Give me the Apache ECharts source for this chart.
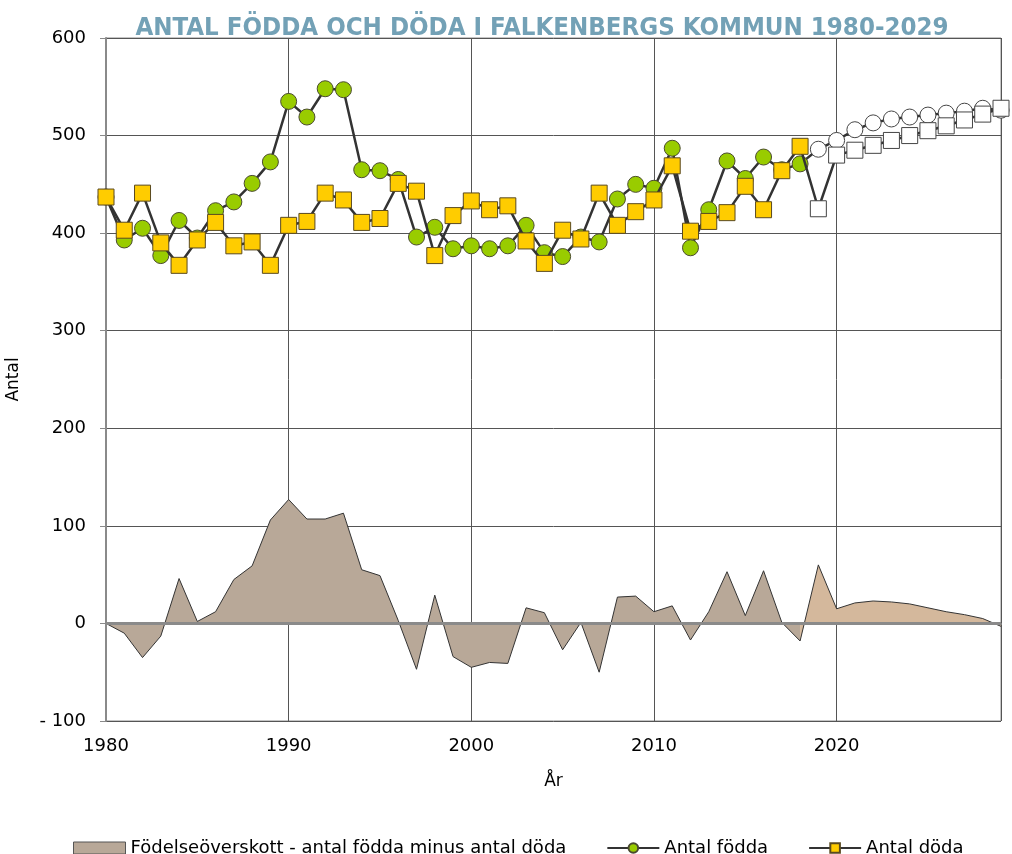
<!DOCTYPE html>
<html>
<head>
<meta charset="utf-8">
<title>Antal födda och döda</title>
<script src="https://cdn.jsdelivr.net/npm/echarts@6/dist/echarts.min.js"></script>
<style>
    html, body { margin: 0; padding: 0; background: #fff; }
    .chart { width: 1012px; height: 854px; }
</style>
</head>
<body>
<div class="chart"></div>
<script>
// år 1980-2029, prognos från 2019
var years = [1980, 1981, 1982, 1983, 1984, 1985, 1986, 1987, 1988, 1989,
    1990, 1991, 1992, 1993, 1994, 1995, 1996, 1997, 1998, 1999,
    2000, 2001, 2002, 2003, 2004, 2005, 2006, 2007, 2008, 2009,
    2010, 2011, 2012, 2013, 2014, 2015, 2016, 2017, 2018, 2019,
    2020, 2021, 2022, 2023, 2024, 2025, 2026, 2027, 2028, 2029];
var prognosFrom = 2019;

var fodda = [437, 393, 405, 377, 413, 395, 423, 432, 451, 473,
    535, 519, 548, 547, 465, 464, 455, 396, 406, 384,
    387, 384, 387, 408, 380, 376, 396, 391, 435, 450,
    446, 487, 385, 424, 474, 456, 478, 465, 471, 486,
    495, 506, 513, 517, 519, 521, 523, 525, 528, 526];

var doda = [437, 403, 441, 390, 367, 393, 411, 387, 391, 367,
    408, 412, 441, 434, 411, 415, 451, 443, 377, 418,
    433, 424, 428, 392, 369, 403, 394, 441, 408, 422,
    434, 469, 402, 412, 421, 448, 424, 464, 489, 425,
    480, 485, 490, 495, 500, 505, 510, 516, 522, 528];

var overskott = [0, -10, -35, -13, 46, 2, 12, 45, 59, 106,
    127, 107, 107, 113, 55, 49, 3, -47, 29, -34,
    -45, -40, -41, 16, 11, -27, 1, -50, 27, 28,
    12, 18, -17, 12, 53, 8, 54, 1, -18, 60,
    15, 21, 23, 22, 20, 16, 12, 9, 5, -3];

var yTicks = [-100, 0, 100, 200, 300, 400, 500, 600];

(function () {
    var myChart = echarts.init(document.querySelector('.chart'));

    var font = "'DejaVu Sans', sans-serif";

    function points(values) {
        return years.map(function (y, i) {
            var item = { value: [y, values[i]] };
            if (y >= prognosFrom) {
                item.itemStyle = { color: '#ffffff', borderColor: '#444' };
            }
            return item;
        });
    }

    var histArea = [];
    var progArea = [];
    years.forEach(function (y, i) {
        if (y < prognosFrom) histArea.push([y, overskott[i]]);
        if (y >= prognosFrom - 1) progArea.push([y, overskott[i]]);
    });

    option = {
        animation: false,
        title: {
            text: 'ANTAL FÖDDA OCH DÖDA I FALKENBERGS KOMMUN 1980-2029',
            left: 537,
            top: 10,
            textAlign: 'center',
            textStyle: {
                fontFamily: "'DejaVu Sans Condensed', 'Liberation Sans Narrow', sans-serif",
                fontSize: 25.6,
                fontWeight: 'bold',
                color: '#73a1b6'
            }
        },
        grid: {
            left: 106,
            right: 11,
            top: 38,
            bottom: 133,
            outerBoundsMode: 'none',
            show: true,
            borderColor: '#8a8a8a',
            borderWidth: 1
        },
        legend: {
            left: 68,
            top: 834,
            itemGap: 40,
            itemWidth: 52,
            itemHeight: 12,
            textStyle: { fontFamily: font, fontSize: 18, color: '#000' },
            data: [
                { name: 'Födelseöverskott - antal födda minus antal döda', icon: 'rect',
                  itemStyle: { color: '#b8a898', borderColor: '#555', borderWidth: 1 } },
                { name: 'Antal födda' },
                { name: 'Antal döda' }
            ]
        },
        xAxis: {
            type: 'value',
            min: 1980,
            max: 2029,
            interval: 10,
            name: 'År',
            nameLocation: 'middle',
            nameGap: 52,
            nameTextStyle: { fontFamily: font, fontSize: 17, color: '#000' },
            axisLine: { show: true, lineStyle: { color: '#8a8a8a', width: 2 } },
            axisTick: { show: false },
            axisLabel: {
                margin: 16,
                fontFamily: font,
                fontSize: 18,
                color: '#000',
                formatter: function (v) { return v % 10 === 0 ? String(v) : ''; }
            },
            splitLine: { show: true, lineStyle: { color: '#555', width: 1 } }
        },
        yAxis: {
            type: 'value',
            min: yTicks[0],
            max: yTicks[yTicks.length - 1],
            interval: 100,
            name: 'Antal',
            nameLocation: 'middle',
            nameGap: 84,
            nameTextStyle: { fontFamily: font, fontSize: 17, color: '#000' },
            axisLine: { show: true, lineStyle: { color: '#8a8a8a', width: 2 } },
            axisTick: { show: true, length: 6, lineStyle: { color: '#8a8a8a' } },
            axisLabel: {
                margin: 20,
                fontFamily: font,
                fontSize: 18,
                color: '#000',
                formatter: function (v) { return v < 0 ? '- ' + Math.abs(v) : String(v); }
            },
            splitLine: { show: true, lineStyle: { color: '#555', width: 1 } }
        },
        series: [
            {
                name: 'Födelseöverskott - antal födda minus antal döda',
                type: 'line',
                data: histArea,
                symbol: 'none',
                z: 1,
                lineStyle: { color: '#333', width: 1 },
                itemStyle: { color: '#b8a898' },
                areaStyle: { color: '#b8a898', opacity: 1 },
                markLine: {
                    silent: true,
                    symbol: 'none',
                    label: { show: false },
                    lineStyle: { color: '#8a8a8a', width: 3, type: 'solid' },
                    data: [{ yAxis: 0 }]
                }
            },
            {
                name: 'Prognos överskott',
                type: 'line',
                data: progArea,
                symbol: 'none',
                z: 1,
                lineStyle: { color: '#333', width: 1 },
                itemStyle: { color: '#d4b89c' },
                areaStyle: { color: '#d4b89c', opacity: 1 }
            },
            {
                name: 'Antal födda',
                type: 'line',
                data: points(fodda),
                symbol: 'circle',
                symbolSize: 16,
                z: 3,
                lineStyle: { color: '#333', width: 2.5 },
                itemStyle: { color: '#99cc00', borderColor: '#4a4a30', borderWidth: 1 }
            },
            {
                name: 'Antal döda',
                type: 'line',
                data: points(doda),
                symbol: 'rect',
                symbolSize: 16,
                z: 4,
                lineStyle: { color: '#333', width: 2.5 },
                itemStyle: { color: '#ffcc00', borderColor: '#5a4a20', borderWidth: 1 }
            }
        ]
    };

    myChart.setOption(option);

    window.addEventListener('resize', function () {
        myChart.resize();
    })
})()
</script>
</body>
</html>
